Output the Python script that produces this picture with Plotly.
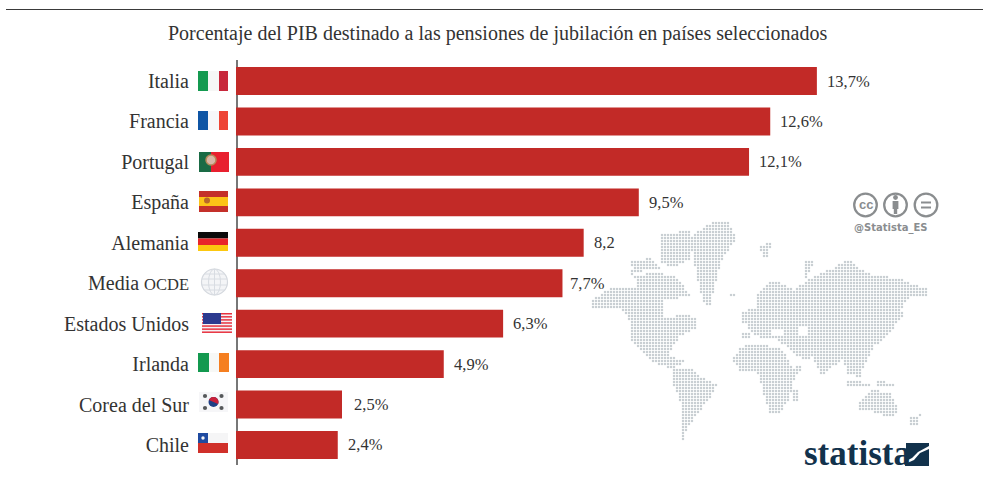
import numpy as np
import plotly.graph_objects as go

countries = ["Italia", "Francia", "Portugal", "España", "Alemania",
             "Media <span style='font-size:16.5px'>OCDE</span>", "Estados Unidos", "Irlanda", "Corea del Sur", "Chile"]
values = [13.7, 12.6, 12.1, 9.5, 8.2, 7.7, 6.3, 4.9, 2.5, 2.4]
value_labels = ["13,7%", "12,6%", "12,1%", "9,5%", "8,2", "7,7%", "6,3%", "4,9%", "2,5%", "2,4%"]
title_text = "Porcentaje del PIB destinado a las pensiones de jubilación en países seleccionados"

W, H = 983, 479
SERIF = "Liberation Serif"
TXT = "#333333"
RED = "#c22a27"

shapes = []
def rect(x0, y0, x1, y1, color, **kw):
    shapes.append(dict(type="rect", xref="x", yref="y", x0=x0, y0=y0, x1=x1, y1=y1,
                       fillcolor=color, line=dict(width=0), layer="below", **kw))
def circ(cx, cy, r, fill="rgba(0,0,0,0)", line="rgba(0,0,0,0)", lw=0, rx=None):
    rx = r if rx is None else rx
    shapes.append(dict(type="circle", xref="x", yref="y", x0=cx-rx, x1=cx+rx, y0=cy-r, y1=cy+r,
                       fillcolor=fill, line=dict(color=line, width=lw), layer="below"))
def seg(x0, y0, x1, y1, color, lw):
    shapes.append(dict(type="line", xref="x", yref="y", x0=x0, y0=y0, x1=x1, y1=y1,
                       line=dict(color=color, width=lw), layer="below"))
def poly(pts, color):
    d = "M" + " L".join(f"{x:.1f},{y:.1f}" for x, y in pts) + " Z"
    shapes.append(dict(type="path", xref="x", yref="y", path=d, fillcolor=color, line=dict(width=0), layer="below"))

# rule and axis
seg(6, 9.5, 983, 9.5, "#3a3a3a", 1)
seg(237, 60, 237, 465, "#777777", 2)

# flags
rect(198, 71, 208, 91, "#149a50"); rect(208, 71, 219, 91, "#f6f7f6"); rect(219, 71, 228, 91, "#c8283c")
rect(198, 111, 208, 130, "#0f55a5"); rect(208, 111, 219, 130, "#f7f7f9"); rect(219, 111, 228, 130, "#ee4435")
rect(199, 152, 211, 172, "#1a6b45"); rect(211, 152, 229, 172, "#e8202f")
circ(211, 160, 5, "#d9b7a8", "#b58a5a", 1.5)
rect(199, 191, 228, 212, "#c4302a"); rect(199, 197, 228, 206, "#fcc417"); circ(207, 200.5, 3, "#b8662a")
rect(198, 232, 228, 238.5, "#0a0a0a"); rect(198, 238.5, 228, 245, "#e8262a"); rect(198, 245, 228, 251, "#fcc80f")
# globe
circ(214.5, 282, 13, "#f4f5f7", "#d4d8de", 1.2)
circ(214.5, 282, 13, line="#d8dce2", lw=1, rx=6)
seg(214.5, 269, 214.5, 295, "#d8dce2", 1)
for dy in (-8, -3, 3, 8):
    hw = (13**2 - dy**2) ** 0.5
    seg(214.5-hw, 282+dy, 214.5+hw, 282+dy, "#d8dce2", 1)
# USA
rect(202, 313, 232, 333, "#f3f3f6")
for i in range(7):
    yy = 313 + i * 20 / 6.5
    rect(202, yy, 232, yy + 1.5, "#e8323f")
rect(203, 313, 221, 324, "#2c3a8f")
# Ireland
rect(198, 353, 209, 372, "#13994f"); rect(209, 353, 219, 372, "#f7f8f6"); rect(219, 353, 229, 372, "#f57f20")
# Korea
rect(199, 392, 228, 412, "#f6f6f8")
circ(213.5, 402, 5, "#1c3f85")
th = np.linspace(np.pi + 0.4, 2*np.pi + 0.4, 20)
poly([(213.5 + 5*np.cos(t), 402 + 5*np.sin(t)) for t in th], "#c8203a")
for dx, dy in ((-8.5, -6), (8, -6), (-8.5, 6), (8, 6)):
    circ(213.5+dx, 402+dy, 2.1, "#55585a")
# Chile
rect(198, 433, 228, 443, "#f5f5f6"); rect(198, 443, 228, 453, "#d0302a"); rect(198, 433, 208, 443, "#1f4aa0")
circ(203, 438, 1.7, "#f5f5f6")

# licence icons
GREY = "#8a8d8f"
for cx in (865.5, 895.5, 926):
    circ(cx, 205, 11.3, "#ffffff", GREY, 2.3)
circ(895.5, 197.5, 2.4, GREY)
rect(892.6, 201, 898.4, 209, GREY); rect(893.8, 208, 897.2, 214, GREY)
seg(921, 202.5, 931, 202.5, GREY, 2); seg(921, 207.5, 931, 207.5, GREY, 2)

# statista mark
NAVY = "#12324c"
poly([(906, 443), (929, 443), (929, 446), (918, 452), (912, 458), (906, 461)], NAVY)
poly([(929, 449), (929, 466), (905, 466), (905, 464), (914, 460), (920, 453)], NAVY)

# dotted world map, outlines of the land masses (image pixels) and a grid of dots
land = [
    # North America
    [(590,300),(600,295),(613,287),(637,287),(633,268),(630,275),(660,273),(677,277),(690,295),(680,298),(668,300),(680,313),(695,317),(698,327),(680,337),(673,347),(667,353),(677,358),(687,360),(677,367),(668,368),(650,360),(640,350),(632,340),(630,323),(623,310),(603,308),(593,308)],
    [(660,235),(690,230),(690,260),(672,268),(660,262)],
    [(630,262),(650,258),(660,268),(635,272)],
    # Greenland
    [(690,237),(713,222),(728,222),(737,238),(723,257),(717,277),(710,305),(703,303),(697,277),(692,250)],
    # South America
    [(673,368),(690,367),(700,377),(717,385),(713,393),(703,407),(693,420),(687,428),(683,442),(680,440),(682,420),(680,400),(672,383)],
    # Africa
    [(734,357),(740,347),(760,343),(783,350),(793,368),(803,365),(793,383),(790,397),(780,413),(769,413),(762,387),(757,373),(740,370),(734,363)],
    [(793,390),(798,390),(797,402),(793,402)],
    # Eurasia
    [(747,323),(740,323),(743,312),(757,307),(755,297),(767,283),(780,283),(793,290),(813,277),(833,268),(850,258),(860,268),(873,275),(897,278),(930,290),(927,295),(910,297),(900,310),(905,313),(897,323),(887,337),(873,347),(867,360),(860,377),(847,373),(843,360),(833,367),(822,377),(813,357),(803,360),(787,347),(777,340),(760,337),(750,333)],
    [(741,333),(750,333),(749,340),(741,340)],
    [(743,312),(748,312),(748,322),(743,322)],
    [(760,245),(772,243),(766,262),(762,255)],
    [(805,262),(815,260),(806,280)],
    [(730,293),(737,293),(737,297),(730,297)],
    # Australia & islands
    [(858,403),(873,390),(890,393),(898,410),(890,418),(873,412),(860,412)],
    [(847,380),(870,383),(870,388),(847,385)],
    [(877,381),(895,383),(895,388),(877,386)],
    [(910,418),(920,415),(918,427),(910,427)],
]
holes = [
    [(663,300),(677,300),(680,315),(665,318)],
    [(773,330),(785,330),(785,335),(773,335)],
    [(800,327),(808,327),(808,337),(800,337)],
]

def inside(px, py, pts):
    pts = np.asarray(pts)
    x0, y0 = pts[:, 0], pts[:, 1]
    x1, y1 = np.roll(x0, -1), np.roll(y0, -1)
    c = (y0[None, :] > py[:, None]) != (y1[None, :] > py[:, None])
    xi = x0 + (py[:, None] - y0) / (y1 - y0 + 1e-9) * (x1 - x0)
    return ((c & (px[:, None] < xi)).sum(axis=1) % 2) == 1

gx, gy = np.meshgrid(np.arange(590, 935, 3.0), np.arange(220, 445, 3.0))
gx, gy = gx.ravel(), gy.ravel()
mask = np.zeros(gx.shape, bool)
for p in land:
    mask |= inside(gx, gy, p)
for p in holes:
    mask &= ~inside(gx, gy, p)

fig = go.Figure()
fig.add_trace(go.Scatter(x=gx[mask], y=gy[mask], mode="markers", xaxis="x", yaxis="y", hoverinfo="skip",
                         marker=dict(symbol="square", size=2.2, color="#c9cfd3", line=dict(width=0)),
                         showlegend=False))
fig.add_trace(go.Bar(x=values, y=countries, orientation="h", xaxis="x2", yaxis="y2",
                     marker=dict(color=RED, line=dict(width=0)), width=0.69, showlegend=False))

label_shift = [8, 8, 8, 8, 8, 6, 8, 8, 10, 8]
annotations = [dict(x=v, y=c, xref="x2", yref="y2", text=t, showarrow=False, xanchor="left", xshift=s,
                    font=dict(family=SERIF, size=16.5, color=TXT))
               for v, c, t, s in zip(values, countries, value_labels, label_shift)]
annotations += [
    dict(x=497, y=33.5, xref="x", yref="y", text=title_text, showarrow=False, xanchor="center", yanchor="middle",
         font=dict(family=SERIF, size=20, color=TXT)),
    dict(x=865.5, y=204, xref="x", yref="y", text="<b>cc</b>", showarrow=False,
         font=dict(family="Liberation Sans", size=13, color=GREY)),
    dict(x=890, y=228, xref="x", yref="y", text="<b>@Statista_ES</b>", showarrow=False,
         font=dict(family="DejaVu Sans", size=10, color=GREY)),
    dict(x=857, y=453, xref="x", yref="y", text="<b>statista</b>", showarrow=False,
         font=dict(family="Liberation Sans Narrow", size=35, color=NAVY)),
]

fig.update_layout(
    width=W, height=H, margin=dict(l=0, r=0, t=0, b=0, autoexpand=False),
    paper_bgcolor="white", plot_bgcolor="rgba(0,0,0,0)", shapes=shapes, annotations=annotations,
    xaxis=dict(domain=[0, 1], range=[0, W], visible=False, fixedrange=True),
    yaxis=dict(domain=[0, 1], range=[H, 0], visible=False, fixedrange=True),
    xaxis2=dict(domain=[236/W, 982/W], range=[0, 746/42.4], visible=False, anchor="y2", fixedrange=True),
    yaxis2=dict(domain=[1-465.2/H, 1-60.8/H], autorange="reversed", anchor="x2", type="category",
                showline=False, showgrid=False, zeroline=False, ticks="", fixedrange=True,
                ticklabelstandoff=46, automargin=False,
                tickfont=dict(family=SERIF, size=20, color=TXT)),
)
fig.write_html("out.html", post_script="document.body.style.margin='0';", config={"displayModeBar": False})
